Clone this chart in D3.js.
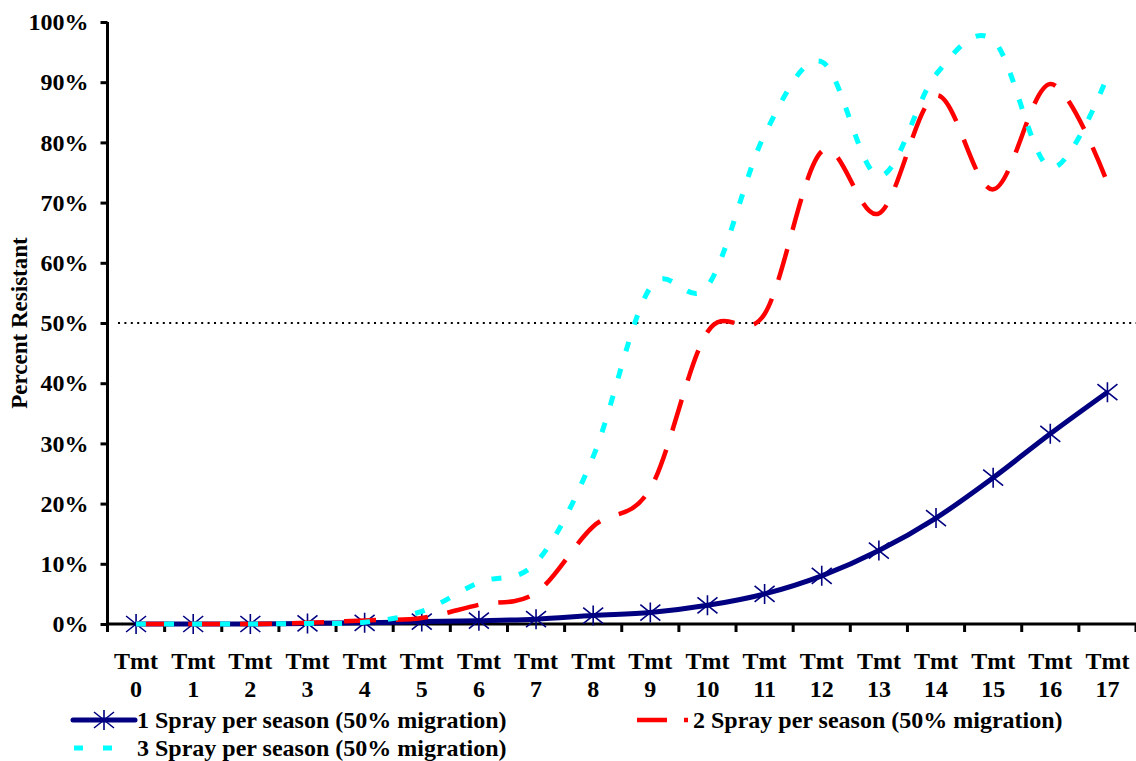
<!DOCTYPE html>
<html>
<head>
<meta charset="utf-8">
<script src="https://cdn.jsdelivr.net/npm/d3@7"></script>
<style>
  html, body { margin: 0; padding: 0; background: #fff; }
  svg { display: block; }
  text { font-family: "Liberation Serif", "Times New Roman", serif; font-weight: bold; fill: #000; }
</style>
</head>
<body>
<svg id="chart" width="1136" height="761"></svg>
<script>
// ---- data ----
const categories = ["0","1","2","3","4","5","6","7","8","9","10","11","12","13","14","15","16","17"];
const oneSpray   = [0, 0, 0, 0.1, 0.2, 0.4, 0.55, 0.8, 1.4, 1.9, 3.1, 5.0, 8.0, 12.2, 17.6, 24.3, 31.6, 38.5];
const twoSpray   = [0, 0, 0, 0.2, 0.6, 1.0, 3.2, 5.2, 16.2, 22.5, 48.5, 51.5, 78.5, 68.2, 87.8, 72.2, 89.7, 73.3];
const threeSpray = [0, 0, 0, 0.1, 0.3, 2.1, 6.9, 10.2, 27.8, 55.9, 56.1, 81.3, 93.4, 74.4, 91.3, 97.0, 75.8, 91.0];
const yTicks = [0, 10, 20, 30, 40, 50, 60, 70, 80, 90, 100];
const threshold = 50;
const seriesNames = [
  "1 Spray per season (50% migration)",
  "2 Spray per season (50% migration)",
  "3 Spray per season (50% migration)"
];
const xLabelPrefix = "Tmt";
const yTitle = "Percent Resistant";

// ---- layout ----
const svg = d3.select("#chart");
const x = d3.scaleBand().domain(categories).range([107.5, 1136]);
const y = d3.scaleLinear().domain([0, 100]).range([624, 22]);
const cx = c => x(c) + x.bandwidth() / 2;
const font = 24;
const ff = '"Liberation Serif", "Times New Roman", serif';

// 50% dotted threshold
svg.append("line")
  .attr("x1", 118).attr("x2", 1136)
  .attr("y1", y(threshold)).attr("y2", y(threshold))
  .attr("stroke", "#000").attr("stroke-width", 2)
  .attr("stroke-dasharray", "2,4.4");

// y axis
const yAxis = svg.append("g")
  .attr("transform", `translate(${x.range()[0]},0)`)
  .call(d3.axisLeft(y).tickValues(yTicks).tickSize(7).tickPadding(12)
        .tickFormat(d => d + "%"));
yAxis.select(".domain").attr("stroke", "#000").attr("stroke-width", 3)
  .attr("d", `M0,${y(0)}V${y(100)}`);
yAxis.selectAll(".tick line").attr("stroke", "#000").attr("stroke-width", 3);
yAxis.selectAll(".tick text")
  .style("font-size", font + "px").style("font-family", ff).style("font-weight", "bold");

// x axis
const xAxis = svg.append("g")
  .attr("transform", `translate(0,${y(0)})`)
  .call(d3.axisBottom(x).tickSize(0).tickPadding(0));
xAxis.select(".domain").attr("stroke", "#000").attr("stroke-width", 3)
  .attr("d", `M${x.range()[0]},0H${x.range()[1]}`);
xAxis.selectAll(".tick text").each(function(d) {
  const t = d3.select(this);
  t.text(null).attr("y", 0).attr("dy", null)
   .style("font-size", font + "px").style("font-family", ff).style("font-weight", "bold");
  t.append("tspan").attr("x", 0).attr("y", 45).text(xLabelPrefix);
  t.append("tspan").attr("x", 0).attr("y", 73).text(d);
});
// boundary ticks
const bounds = categories.map(c => x(c)).concat([x.range()[1]]);
xAxis.selectAll("line.btick").data(bounds).enter().append("line")
  .attr("class", "btick")
  .attr("x1", d => d).attr("x2", d => d)
  .attr("y1", 0).attr("y2", 8)
  .attr("stroke", "#000").attr("stroke-width", 3);

// lines
const line = d3.line()
  .x((d, i) => cx(categories[i]))
  .y(d => y(d))
  .curve(d3.curveCatmullRom.alpha(0));

const starPath = "M0,-10V10M-10,-8L10,8M-10,8L10,-8";

svg.append("path").datum(oneSpray)
  .attr("d", line).attr("fill", "none")
  .attr("stroke", "#000080").attr("stroke-width", 5).attr("stroke-linejoin", "round");

svg.selectAll("path.star").data(oneSpray).enter().append("path")
  .attr("class", "star")
  .attr("transform", (d, i) => `translate(${cx(categories[i])},${y(d)})`)
  .attr("d", starPath).attr("fill", "none")
  .attr("stroke", "#000080").attr("stroke-width", 1.6);

svg.append("path").datum(twoSpray)
  .attr("d", line).attr("fill", "none")
  .attr("stroke", "#ff0000").attr("stroke-width", 4.5)
  .attr("stroke-dasharray", "32,20");

svg.append("path").datum(threeSpray)
  .attr("d", line).attr("fill", "none")
  .attr("stroke", "#00ffff").attr("stroke-width", 5)
  .attr("stroke-dasharray", "10,18");

// y title
svg.append("text")
  .attr("transform", `translate(27,${(y(0) + y(100)) / 2}) rotate(-90)`)
  .attr("text-anchor", "middle")
  .style("font-size", "23px")
  .text(yTitle);

// legend
const lg = svg.append("g");
lg.append("line").attr("x1", 73).attr("x2", 135).attr("y1", 720).attr("y2", 720)
  .attr("stroke", "#000080").attr("stroke-width", 5).attr("stroke-linecap", "round");
lg.append("path").attr("transform", "translate(104,720)").attr("d", starPath)
  .attr("fill", "none").attr("stroke", "#000080").attr("stroke-width", 1.6);
lg.append("text").attr("x", 137).attr("y", 728).style("font-size", font + "px").text(seriesNames[0]);

lg.append("line").attr("x1", 637).attr("x2", 688).attr("y1", 720).attr("y2", 720)
  .attr("stroke", "#ff0000").attr("stroke-width", 4.5).attr("stroke-dasharray", "30,17");
lg.append("text").attr("x", 693).attr("y", 728).style("font-size", font + "px").text(seriesNames[1]);

lg.append("line").attr("x1", 74).attr("x2", 113).attr("y1", 748).attr("y2", 748)
  .attr("stroke", "#00ffff").attr("stroke-width", 5).attr("stroke-dasharray", "9,20");
lg.append("text").attr("x", 137).attr("y", 756).style("font-size", font + "px").text(seriesNames[2]);
</script>
</body>
</html>
